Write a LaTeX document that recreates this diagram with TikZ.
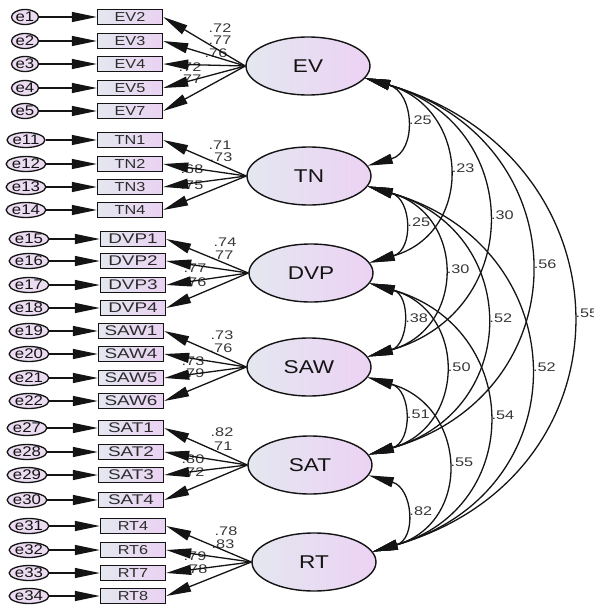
\documentclass[tikz,border=0pt]{standalone}
\usepackage{fontspec}
\setmainfont{Liberation Sans}
\newfontfamily\fnumfont[FakeStretch=1.3]{Liberation Sans}
\newfontfamily\flatfont[FakeStretch=1.22]{Liberation Sans}
\newfontfamily\fobsAfont[FakeStretch=1.25]{Liberation Sans}
\newfontfamily\fobsBfont[FakeStretch=1.35]{Liberation Sans}
\newfontfamily\ferrfont[FakeStretch=1.2]{Liberation Sans}
\usetikzlibrary{shapes.geometric,arrows.meta}
\definecolor{latL}{RGB}{228,231,240}
\definecolor{latR}{RGB}{236,210,244}
\definecolor{obsL}{RGB}{228,231,240}
\definecolor{obsR}{RGB}{234,210,242}
\definecolor{errC}{RGB}{236,220,242}
\definecolor{ink}{RGB}{20,20,20}
\tikzset{
  lat/.style={ellipse, draw=ink, line width=1.4pt, minimum width=124pt, minimum height=58pt,
    inner sep=0pt, left color=latL, right color=latR, text=ink, font=\flatfont\fontsize{18.5}{20}\selectfont},
  obsA/.style={rectangle, draw=ink, line width=1.4pt, minimum width=65pt, minimum height=15pt,
    inner sep=0pt, left color=obsL, right color=obsR, text=ink!90, font=\fobsAfont\fontsize{13}{13}\selectfont},
  obsB/.style={obsA, font=\fobsBfont\fontsize{14}{14}\selectfont},
  err/.style={ellipse, draw=ink, line width=1.3pt, minimum width=27pt, minimum height=15pt,
    inner sep=0pt, fill=errC, text=ink, font=\ferrfont\fontsize{14}{14}\selectfont},
  tipA/.tip={Triangle[length=25pt,width=10pt]},
  earr/.style={draw=ink, line width=1.3pt, -tipA},
  ldarr/.style={draw=ink, line width=1.3pt, -tipA},
  corr/.style={draw=ink, line width=1.3pt, tipA-tipA},
  num/.style={inner sep=0pt, text=ink!85, font=\fnumfont\fontsize{12.5}{13}\selectfont},
  clab/.style={num, pos=0.5, anchor=west, xshift=5pt, yshift=2pt}
}
\begin{document}
\begin{tikzpicture}[x=1pt,y=-1pt]
\useasboundingbox (0,0) rectangle (594,605);

% latent variables
\node[lat] (EV)  at (308,66)  {EV};
\node[lat] (TN)  at (309,176) {TN};
\node[lat] (DVP) at (311,273) {DVP};
\node[lat] (SAW) at (309,367) {SAW};
\node[lat] (SAT) at (310,465) {SAT};
\node[lat] (RT)  at (314,562) {RT};

% loading labels (drawn first, arrows above)
\node[num] (lEV2) at (220,28) {.72};
\node[num] (lEV3) at (220,40) {.77};
\node[num] (lEV4) at (216,53) {.76};
\node[num] (lEV5) at (190,67) {.72};
\node[num] (lEV7) at (190,79) {.77};
\node[num] (lTN1) at (220,145) {.71};
\node[num] (lTN2) at (221,157) {.73};
\node[num] (lTN3) at (192,169) {.68};
\node[num] (lTN4) at (192,185) {.75};
\node[num] (lDVP1) at (225,242) {.74};
\node[num] (lDVP2) at (222,255) {.77};
\node[num] (lDVP3) at (195,268) {.77};
\node[num] (lDVP4) at (195,282) {.76};
\node[num] (lSAW1) at (222,335) {.73};
\node[num] (lSAW4) at (221,348) {.76};
\node[num] (lSAW5) at (193,361) {.73};
\node[num] (lSAW6) at (193,373) {.79};
\node[num] (lSAT1) at (222,432) {.82};
\node[num] (lSAT2) at (221,446) {.71};
\node[num] (lSAT3) at (193,459) {.80};
\node[num] (lSAT4) at (193,472) {.72};
\node[num] (lRT4) at (226,531) {.78};
\node[num] (lRT6) at (223,544) {.83};
\node[num] (lRT7) at (195,556) {.79};
\node[num] (lRT8) at (196,569) {.78};

% indicators, errors and arrows
\foreach \n/\e/\y in {EV2/e1/17, EV3/e2/41, EV4/e3/64, EV5/e4/88, EV7/e5/111}{
  \node[obsA] (\n) at (130,\y) {\n};
  \node[err] (\e) at (25,\y) {\e};
  \draw[earr] (\e) -- (\n);
  \draw[ldarr] (EV.west) -- (\n.east);
}
\foreach \n/\e/\y in {TN1/e11/140, TN2/e12/164, TN3/e13/187, TN4/e14/210}{
  \node[obsA] (\n) at (130,\y) {\n};
  \node[err] (\e) at (26,\y) {\e};
  \draw[earr] (\e) -- (\n);
  \draw[ldarr] (TN.west) -- (\n.east);
}
\foreach \n/\e/\y in {DVP1/e15/239, DVP2/e16/261, DVP3/e17/285, DVP4/e18/308}{
  \node[obsB] (\n) at (133,\y) {\n};
  \node[err] (\e) at (29,\y) {\e};
  \draw[earr] (\e) -- (\n);
  \draw[ldarr] (DVP.west) -- (\n.east);
}
\foreach \n/\e/\y in {SAW1/e19/331, SAW4/e20/354, SAW5/e21/378, SAW6/e22/401}{
  \node[obsB] (\n) at (131,\y) {\n};
  \node[err] (\e) at (29,\y) {\e};
  \draw[earr] (\e) -- (\n);
  \draw[ldarr] (SAW.west) -- (\n.east);
}
\foreach \n/\e/\y in {SAT1/e27/428, SAT2/e28/452, SAT3/e29/475, SAT4/e30/500}{
  \node[obsB] (\n) at (131,\y) {\n};
  \node[err] (\e) at (27,\y) {\e};
  \draw[earr] (\e) -- (\n);
  \draw[ldarr] (SAT.west) -- (\n.east);
}
\foreach \n/\e/\y in {RT4/e31/526, RT6/e32/550, RT7/e33/573, RT8/e34/596}{
  \node[obsA] (\n) at (133,\y) {\n};
  \node[err] (\e) at (29,\y) {\e};
  \draw[earr] (\e) -- (\n);
  \draw[ldarr] (RT.west) -- (\n.east);
}

% correlations
\draw[corr] (EV.-12) .. controls +(49.3,14.2) and +(49.3,-14.2) .. (TN.10) node[clab] (cEVTN) {.25};
\draw[corr] (EV.-12) .. controls +(104.9,30.2) and +(104.9,-30.2) .. (DVP.10) node[clab] (cEVDVP) {.23};
\draw[corr] (EV.-12) .. controls +(158.7,45.7) and +(158.7,-45.7) .. (SAW.10) node[clab] (cEVSAW) {.30};
\draw[corr] (EV.-12) .. controls +(214.9,61.9) and +(214.9,-61.9) .. (SAT.10) node[clab] (cEVSAT) {.56};
\draw[corr] (EV.-12) .. controls +(268,77.9) and +(268,-77.9) .. (RT.10) node[clab] (cEVRT) {.55};
\draw[corr] (TN.-10) .. controls +(44.1,12.7) and +(44.1,-12.7) .. (DVP.10) node[clab] (cTNDVP) {.25};
\draw[corr] (TN.-10) .. controls +(98,28.2) and +(98,-28.2) .. (SAW.10) node[clab] (cTNSAW) {.30};
\draw[corr] (TN.-10) .. controls +(154.1,44.4) and +(154.1,-44.4) .. (SAT.10) node[clab] (cTNSAT) {.52};
\draw[corr] (TN.-10) .. controls +(209.7,60.4) and +(209.7,-60.4) .. (RT.10) node[clab] (cTNRT) {.52};
\draw[corr] (DVP.-10) .. controls +(41.3,11.9) and +(41.3,-11.9) .. (SAW.10) node[clab] (cDVPSAW) {.38};
\draw[corr] (DVP.-10) .. controls +(97.4,28.1) and +(97.4,-28.1) .. (SAT.10) node[clab] (cDVPSAT) {.50};
\draw[corr] (DVP.-10) .. controls +(153,44.1) and +(153,-44.1) .. (RT.10) node[clab] (cDVPRT) {.54};
\draw[corr] (SAW.-10) .. controls +(44.1,12.7) and +(44.1,-12.7) .. (SAT.10) node[clab] (cSAWSAT) {.51};
\draw[corr] (SAW.-10) .. controls +(99.7,28.7) and +(99.7,-28.7) .. (RT.10) node[clab] (cSAWRT) {.55};
\draw[corr] (SAT.-10) .. controls +(44.1,12.7) and +(44.1,-12.7) .. (RT.10) node[clab] (cSATRT) {.82};
\end{tikzpicture}
\end{document}
